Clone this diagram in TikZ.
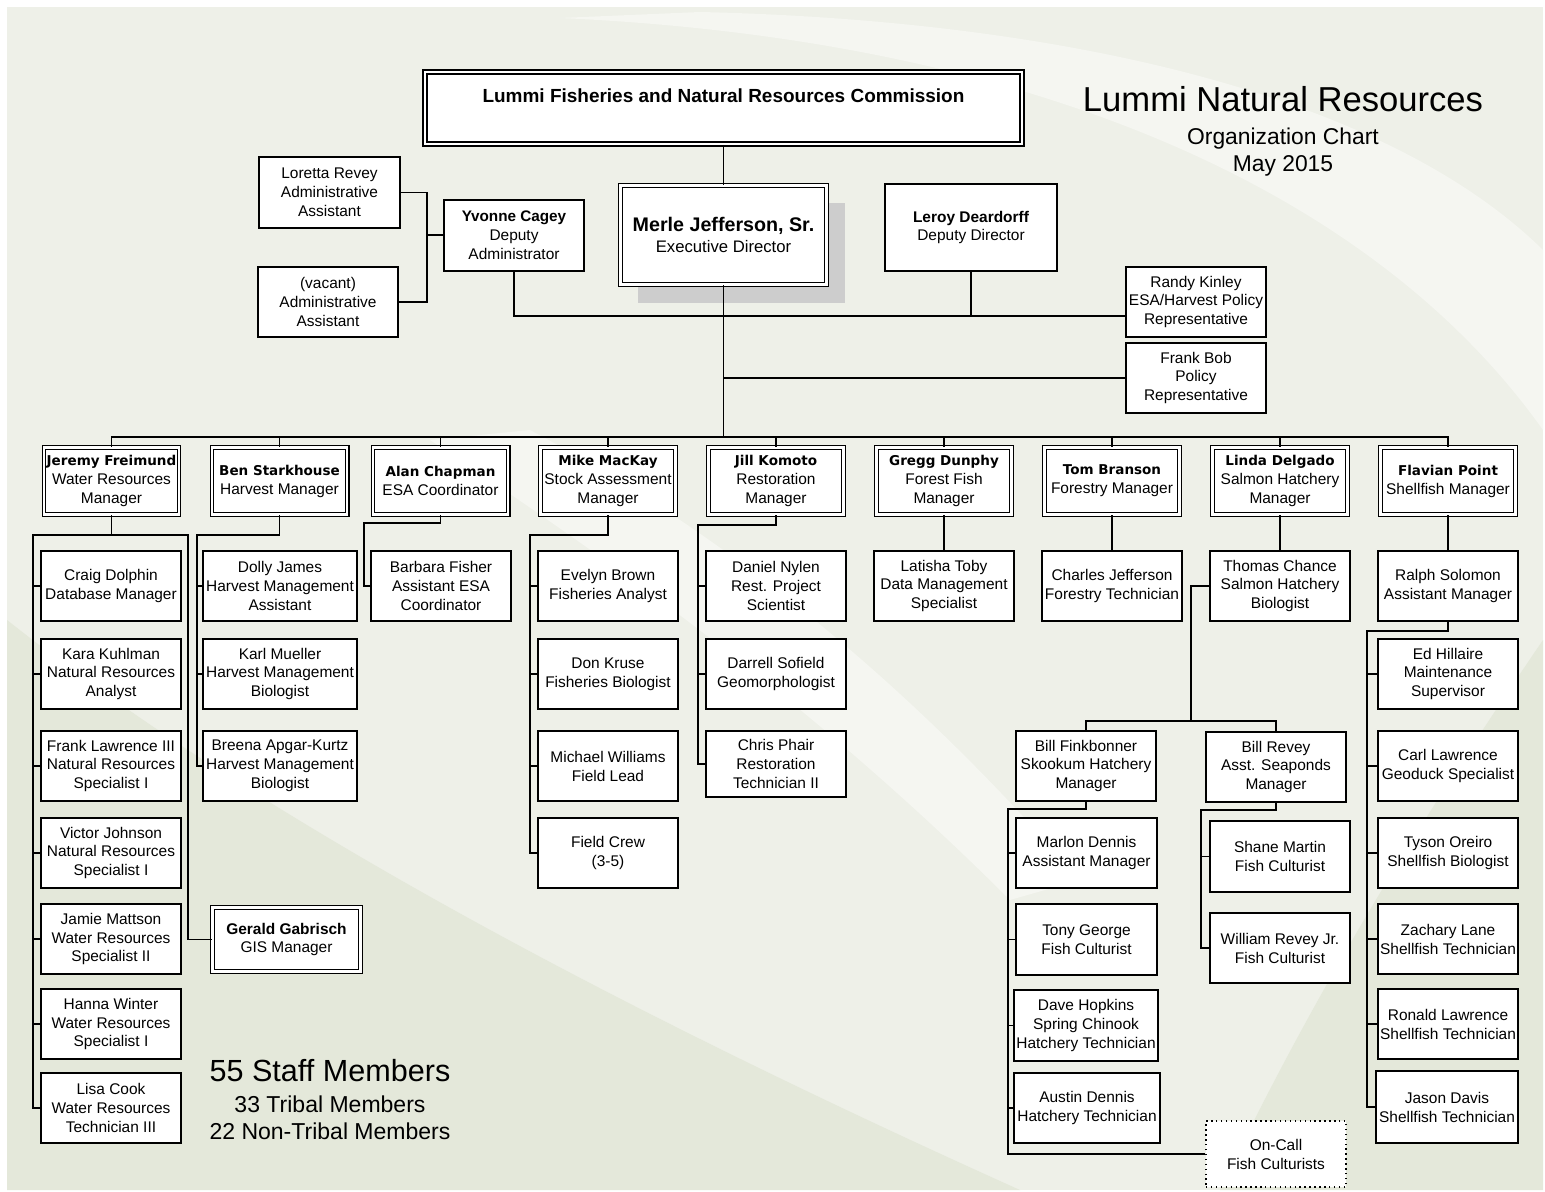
\documentclass[tikz,border=0pt]{standalone}
\usepackage{fontspec}
\setmainfont{Liberation Sans}
\newfontfamily\widebold{DejaVu Sans}
\usetikzlibrary{shadows}

\definecolor{bgbase}{RGB}{238,240,232}
\definecolor{bgdark}{RGB}{228,232,218}
\definecolor{bglight}{RGB}{245,246,241}
\definecolor{shade}{RGB}{205,205,205}

\newcommand\bodyfont{\fontsize{8.8}{10.8}\selectfont}
\newcommand\mname[1]{{\widebold\bfseries\fontsize{7.7}{10.8}\selectfont #1}}
\newcommand\bname[2]{{\bfseries\fontsize{#1}{10.8}\selectfont #2}}

\begin{document}
\begin{tikzpicture}[x=0.02cm,y=-0.02cm,
  box/.style={draw,fill=white,line width=0.8pt,minimum width=2.8cm,minimum height=1.4cm,
    inner sep=1pt,align=center,font=\bodyfont},
  mgr/.style={box,double,line width=0.75pt,double distance=1.3pt,minimum width=2.702cm,minimum height=1.342cm},
  link/.style={line width=0.9pt},
  words/.style={anchor=base,inner sep=0pt}]
\useasboundingbox (0,0) rectangle (1545,1192);
\fill[white] (0,0) rectangle (1545,1192);
\fill[bgbase] (7,7) rectangle (1543,1190);
\fill[bglight] (560,18) .. controls (1050,40) and (1380,200) .. (1543,430) -- (1543,250) .. controls (1380,90) and (1050,20) .. (700,12) -- cycle;
\fill[bgdark] (7,620) .. controls (260,820) and (620,1010) .. (1020,1190) -- (7,1190) -- cycle;
\fill[bgdark] (1543,640) .. controls (1420,820) and (1310,1000) .. (1220,1190) -- (1543,1190) -- cycle;
\fill[bglight] (430,440) .. controls (610,560) and (810,700) .. (1010,900) -- (1080,880) .. controls (890,660) and (700,520) .. (530,430) -- cycle;

\node[draw,fill=white,double,line width=1pt,double distance=1.3pt,inner sep=0pt,
  minimum width=11.944cm,text height=0.616cm,text depth=0.828cm,anchor=base]
  (comm) at (723.5,102.7) {\bname{10.8}{Lummi Fisheries and Natural Resources Commission}};
\node[mgr,minimum width=4.122cm,minimum height=1.982cm,
  drop shadow={shadow xshift=0.36cm,shadow yshift=-0.36cm,fill=shade,opacity=1}]
  (merle) at (723.5,235) {\bname{11.2}{Merle Jefferson, Sr.}\\[1pt]{\fontsize{9.5}{10.8}\selectfont Executive Director}};
\node[box,minimum width=2.82cm,minimum height=1.42cm] (loretta) at (329.5,192.5) {Loretta Revey\\Administrative\\Assistant};
\node[box] (vacant) at (328,302) {(vacant)\\Administrative\\Assistant};
\node[box,minimum height=1.42cm] (yvonne) at (514,235.5) {\bname{8.7}{Yvonne Cagey}\\Deputy\\Administrator};
\node[box,minimum width=3.44cm,minimum height=1.74cm] (leroy) at (971,227.5) {\bname{8.8}{Leroy Deardorff}\\Deputy Director};
\node[box] (randy) at (1196,302) {Randy Kinley\\ESA/Harvest Policy\\Representative};
\node[box] (frank) at (1196,378) {Frank Bob\\Policy\\Representative};

\node[words,font=\fontsize{19.7}{22}\selectfont] (title) at (1283,112) {Lummi Natural Resources};
\node[words,font=\fontsize{13}{15}\selectfont] (subtitle) at (1283,145) {Organization Chart};
\node[words,font=\fontsize{13}{15}\selectfont] (date) at (1283,172) {May 2015};

\node[mgr] (jeremy) at (111.5,481) {\mname{Jeremy Freimund}\\Water Resources\\Manager};
\node[mgr] (ben) at (279.5,481) {\mname{Ben Starkhouse}\\Harvest Manager};
\node[mgr] (alan) at (440.5,481) {\mname{Alan Chapman}\\ESA Coordinator};
\node[mgr] (mike) at (608,481) {\mname{Mike MacKay}\\Stock Assessment\\Manager};
\node[mgr] (jill) at (776,481) {\mname{Jill Komoto}\\Restoration\\Manager};
\node[mgr] (gregg) at (944,481) {\mname{Gregg Dunphy}\\Forest Fish\\Manager};
\node[mgr] (tom) at (1112,481) {\mname{Tom Branson}\\Forestry Manager};
\node[mgr] (linda) at (1280,481) {\mname{Linda Delgado}\\Salmon Hatchery\\Manager};
\node[mgr] (flavian) at (1448,481) {\mname{Flavian Point}\\Shellfish Manager};

\node[box] (craig) at (111,586) {Craig Dolphin\\Database Manager};
\node[box] (kara) at (111,674) {Kara Kuhlman\\Natural Resources\\Analyst};
\node[box] (frankl) at (111,766) {Frank Lawrence III\\Natural Resources\\Specialist I};
\node[box] (victor) at (111,853) {Victor Johnson\\Natural Resources\\Specialist I};
\node[box] (jamie) at (111,939) {Jamie Mattson\\Water Resources\\Specialist II};
\node[box] (hanna) at (111,1024) {Hanna Winter\\Water Resources\\Specialist I};
\node[box] (lisa) at (111,1108) {Lisa Cook\\Water Resources\\Technician III};
\node[mgr,minimum width=2.962cm,minimum height=1.282cm] (gerald) at (286.5,939.5) {\bname{8.8}{Gerald Gabrisch}\\GIS Manager};

\node[box,minimum width=3.08cm] (dolly) at (280,586) {Dolly James\\Harvest Management\\Assistant};
\node[box,minimum width=3.08cm] (karl) at (280,674) {Karl Mueller\\Harvest Management\\Biologist};
\node[box,minimum width=3.08cm] (breena) at (280,766) {Breena Apgar-Kurtz\\Harvest Management\\Biologist};

\node[box] (barbara) at (441,586) {Barbara Fisher\\Assistant ESA\\Coordinator};

\node[box] (evelyn) at (608,586) {Evelyn Brown\\Fisheries Analyst};
\node[box] (don) at (608,674) {Don Kruse\\Fisheries Biologist};
\node[box] (michael) at (608,766) {Michael Williams\\Field Lead};
\node[box] (crew) at (608,853) {Field Crew\\(3-5)};

\node[box] (daniel) at (776,586) {Daniel Nylen\\Rest. Project\\Scientist};
\node[box] (darrell) at (776,674) {Darrell Sofield\\Geomorphologist};
\node[box,minimum height=1.32cm] (chris) at (776,764) {Chris Phair\\Restoration\\Technician II};

\node[box] (latisha) at (944,586) {Latisha Toby\\Data Management\\Specialist};
\node[box] (charles) at (1112,586) {Charles Jefferson\\Forestry Technician};
\node[box] (thomas) at (1280,586) {Thomas Chance\\Salmon Hatchery\\Biologist};

\node[box] (finkbonner) at (1086,766) {Bill Finkbonner\\Skookum Hatchery\\Manager};
\node[box] (billrevey) at (1276,767) {Bill Revey\\Asst. Seaponds\\Manager};
\node[box,minimum width=2.82cm] (marlon) at (1086.5,853) {Marlon Dennis\\Assistant Manager};
\node[box,minimum width=2.82cm,minimum height=1.42cm] (tony) at (1086.5,939.5) {Tony George\\Fish Culturist};
\node[box,minimum width=2.88cm,minimum height=1.42cm] (dave) at (1086,1025.5) {Dave Hopkins\\Spring Chinook\\Hatchery Technician};
\node[box,minimum width=2.92cm] (austin) at (1087,1108) {Austin Dennis\\Hatchery Technician};
\node[box,dotted,minimum height=1.32cm] (oncall) at (1276,1154) {On-Call\\Fish Culturists};
\node[box,minimum height=1.42cm] (shane) at (1280,856.5) {Shane Martin\\Fish Culturist};
\node[box] (william) at (1280,948) {William Revey Jr.\\Fish Culturist};

\node[box] (ralph) at (1448,586) {Ralph Solomon\\Assistant Manager};
\node[box] (ed) at (1448,674) {Ed Hillaire\\Maintenance\\Supervisor};
\node[box] (carl) at (1448,766) {Carl Lawrence\\Geoduck Specialist};
\node[box] (tyson) at (1448,853) {Tyson Oreiro\\Shellfish Biologist};
\node[box] (zachary) at (1448,939) {Zachary Lane\\Shellfish Technician};
\node[box] (ronald) at (1448,1024) {Ronald Lawrence\\Shellfish Technician};
\node[box,minimum width=2.84cm,minimum height=1.44cm] (jason) at (1447,1107) {Jason Davis\\Shellfish Technician};

\node[words,font=\fontsize{17.4}{20}\selectfont] (staff) at (330,1081) {55 Staff Members};
\node[words,font=\fontsize{13.1}{15}\selectfont] (tribal) at (330,1112) {33 Tribal Members};
\node[words,font=\fontsize{13.1}{15}\selectfont] (nontribal) at (330,1139) {22 Non-Tribal Members};

\coordinate (ab) at (427,235);
\coordinate (db) at (971,316);
\coordinate (mb) at (723.5,437);
\draw[link] (comm.south) -- (merle.north);
\draw[link] (loretta.east) -| (ab) |- (vacant.east);
\draw[link] (ab) -- (ab -| yvonne.west);
\draw[link] (yvonne.south) |- (randy.west |- db);
\draw[link] (leroy.south) -- (leroy.south |- db);
\draw[link] (merle.south) -- (mb);
\draw[link] (frank.west) -- (frank.west -| mb);
\draw[link] (jeremy.north) |- (mb) -| (flavian.north);
\foreach \m in {ben,alan,mike,jill,gregg,tom,linda}
  \draw[link] (\m.north) -- (\m.north |- mb);

\coordinate (jl) at (33,535);
\coordinate (jr) at (188,535);
\draw[link] (jeremy.south) -- (jeremy.south |- jl);
\draw[link] (lisa.west) -| (jl) -- (jr) |- (gerald.west);
\foreach \n in {craig,kara,frankl,victor,jamie,hanna}
  \draw[link] (\n.west) -- (\n.west -| jl);

\coordinate (bl) at (197,535);
\draw[link] (ben.south) |- (bl) |- (breena.west);
\foreach \n in {dolly,karl}
  \draw[link] (\n.west) -- (\n.west -| bl);

\coordinate (al) at (364,523);
\draw[link] (alan.south) |- (al) |- (barbara.west);

\coordinate (ml) at (530,535);
\draw[link] (mike.south) |- (ml) |- (crew.west);
\foreach \n in {evelyn,don,michael}
  \draw[link] (\n.west) -- (\n.west -| ml);

\coordinate (kl) at (698,525);
\draw[link] (jill.south) |- (kl) |- (chris.west);
\foreach \n in {daniel,darrell}
  \draw[link] (\n.west) -- (\n.west -| kl);

\draw[link] (gregg.south) -- (latisha.north);
\draw[link] (tom.south) -- (charles.north);
\draw[link] (linda.south) -- (thomas.north);
\draw[link] (flavian.south) -- (ralph.north);

\coordinate (tl) at (1191,721);
\draw[link] (thomas.west) -| (tl);
\draw[link] (finkbonner.north) |- (tl) -| (billrevey.north);

\coordinate (fl) at (1008,809);
\draw[link] (finkbonner.south) |- (fl) |- (oncall.west);
\foreach \n in {marlon,tony,dave,austin}
  \draw[link] (\n.west) -- (\n.west -| fl);

\coordinate (rl) at (1201,810);
\draw[link] (billrevey.south) |- (rl) |- (william.west);
\draw[link] (shane.west) -- (shane.west -| rl);

\coordinate (sl) at (1367,631);
\draw[link] (ralph.south) |- (sl) |- (jason.west);
\foreach \n in {ed,carl,tyson,zachary,ronald}
  \draw[link] (\n.west) -- (\n.west -| sl);
\end{tikzpicture}
\end{document}
